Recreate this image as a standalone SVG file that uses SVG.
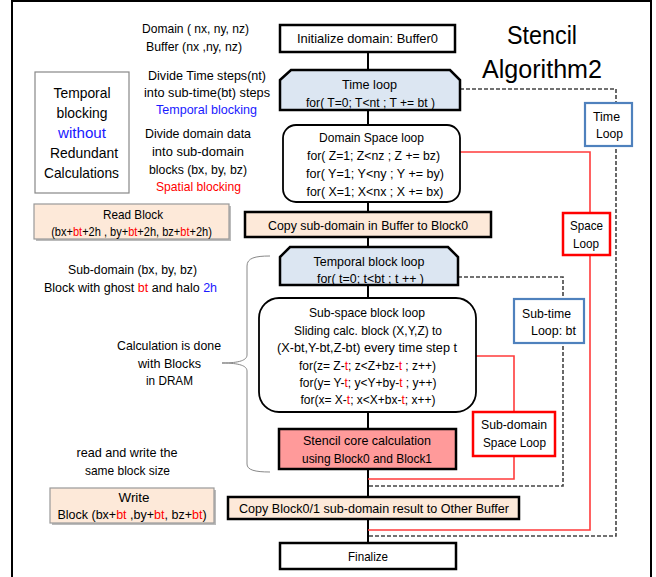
<svg xmlns="http://www.w3.org/2000/svg" width="656" height="577" viewBox="0 0 656 577">
<style>
text{font-family:"Liberation Sans",Arial,sans-serif;font-size:13px;fill:#000;text-anchor:middle}
.r{fill:#ff0000}
.b{fill:#1a1aff}
.big{font-size:15px}
.s12{font-size:12px}
.s125{font-size:12.5px}
.title{font-size:25px}
.box{stroke:#000;stroke-width:2.5}
.w{fill:#fff}
.blue{fill:#dce6f2}
.peach{fill:#fde9d9}
.lp{fill:#fff;stroke:#4f81bd;stroke-width:2.2}
.rp{fill:#fff;stroke:#ff0000;stroke-width:2.5}
.ln{stroke:#000;stroke-width:2;fill:none}
.dash{stroke:#444;stroke-width:1.6;stroke-dasharray:4 2;fill:none}
.red{stroke:#ff3b3b;stroke-width:1.6;fill:none}
</style>
<rect x="0" y="0" width="656" height="577" fill="#fff"/>
<path d="M12,590 V1 H651 V590" fill="none" stroke="#000" stroke-width="2"/>

<g id="title">
<text class="title" x="542" y="44" textLength="70" lengthAdjust="spacingAndGlyphs">Stencil</text>
<text class="title" x="542" y="78" textLength="120" lengthAdjust="spacingAndGlyphs">Algorithm2</text>
</g>

<g id="connectors">
<path class="ln" d="M368,52 V70 M368,110 V125 M368,202 V212 M368,237 V247 M368,285 V298 M368,412 V429 M368,469 V497 M368,519 V543"/>
<path class="dash" d="M460,89 H616 V536 H368"/>
<path class="red" d="M460,152 H590 V530 H368"/>
<path class="dash" d="M458,277 H563 V486 H368"/>
<path class="red" d="M476,356 H514 V479 H368"/>
<path d="M270,256 C255,256 247,258 247,266 V355 C247,360 240,363 222,363 C240,363 247,366 247,371 V464 C247,470 255,472 270,472" fill="none" stroke="#888" stroke-width="1"/>
</g>

<g id="notes">
<text x="195.5" y="33" textLength="107" lengthAdjust="spacingAndGlyphs">Domain ( nx, ny, nz)</text>
<text x="194" y="51" textLength="96" lengthAdjust="spacingAndGlyphs">Buffer (nx ,ny, nz)</text>
<text x="207" y="80" textLength="118" lengthAdjust="spacingAndGlyphs">Divide Time steps(nt)</text>
<text x="207" y="97" textLength="126" lengthAdjust="spacingAndGlyphs">into sub-time(bt) steps</text>
<text class="b" x="206.5" y="114" textLength="101" lengthAdjust="spacingAndGlyphs">Temporal blocking</text>
<text x="198" y="138" textLength="106" lengthAdjust="spacingAndGlyphs">Divide domain data</text>
<text x="198" y="156" textLength="92" lengthAdjust="spacingAndGlyphs">into sub-domain</text>
<text x="198" y="174" textLength="98" lengthAdjust="spacingAndGlyphs">blocks (bx, by, bz)</text>
<text class="r" x="198.5" y="191" textLength="85" lengthAdjust="spacingAndGlyphs">Spatial blocking</text>
<text x="132.5" y="274" textLength="129" lengthAdjust="spacingAndGlyphs">Sub-domain (bx, by, bz)</text>
<text class="s125" x="130.5" y="292">Block with ghost <tspan class="r">bt</tspan> and halo <tspan class="b">2h</tspan></text>
<text x="169" y="350" textLength="104" lengthAdjust="spacingAndGlyphs">Calculation is done</text>
<text x="169.5" y="368" textLength="63" lengthAdjust="spacingAndGlyphs">with Blocks</text>
<text x="169.5" y="385" textLength="47" lengthAdjust="spacingAndGlyphs">in DRAM</text>
<text x="127" y="457" textLength="101" lengthAdjust="spacingAndGlyphs">read and write the</text>
<text x="127.5" y="475" textLength="85" lengthAdjust="spacingAndGlyphs">same block size</text>
</g>

<g id="temporal-note">
<rect x="35" y="72" width="94" height="121" fill="#fff" stroke="#888" stroke-width="1.2"/>
<text class="big" x="82" y="98" textLength="57" lengthAdjust="spacingAndGlyphs">Temporal</text>
<text class="big" x="82" y="118" textLength="51" lengthAdjust="spacingAndGlyphs">blocking</text>
<text class="big b" x="82" y="138" textLength="48" lengthAdjust="spacingAndGlyphs">without</text>
<text class="big" x="84" y="158" textLength="68" lengthAdjust="spacingAndGlyphs">Redundant</text>
<text class="big" x="81.5" y="178" textLength="75" lengthAdjust="spacingAndGlyphs">Calculations</text>
</g>

<g id="read-block">
<rect x="36" y="206" width="195" height="35" fill="#bbb"/>
<rect x="34" y="204" width="195" height="35" class="peach" stroke="#999" stroke-width="1.2"/>
<text x="133" y="219" textLength="60" lengthAdjust="spacingAndGlyphs">Read Block</text>
<text class="s12" transform="translate(131.5,236) scale(0.92,1)" x="0" y="0">(bx+<tspan class="r">bt</tspan>+2h  , by+<tspan class="r">bt</tspan>+2h,  bz+<tspan class="r">bt</tspan>+2h)</text>
</g>

<g id="write-block">
<rect x="52" y="490" width="164" height="35" fill="#bbb"/>
<rect x="50" y="488" width="164" height="35" class="peach" stroke="#999" stroke-width="1.2"/>
<text x="134" y="502" textLength="31" lengthAdjust="spacingAndGlyphs">Write</text>
<text class="s125" x="132" y="519">Block (bx+<tspan class="r">bt</tspan> ,by+<tspan class="r">bt</tspan>, bz+<tspan class="r">bt</tspan>)</text>
</g>

<g id="init">
<rect x="280" y="25" width="175" height="27" class="box w"/>
<text x="367.5" y="43" textLength="141" lengthAdjust="spacingAndGlyphs">Initialize domain: Buffer0</text>
</g>

<g id="time-loop">
<polygon points="280,80 291,70 450,70 460,80 460,110 280,110" class="box blue"/>
<text x="369.5" y="89" textLength="55" lengthAdjust="spacingAndGlyphs">Time loop</text>
<text x="370.5" y="107" textLength="129" lengthAdjust="spacingAndGlyphs">for( T=0; T&lt;nt ; T += bt )</text>
</g>

<g id="domain-space-loop">
<rect x="283" y="125" width="177" height="77" rx="13" fill="#fff" stroke="#000" stroke-width="1.8"/>
<text x="371.5" y="142" textLength="105" lengthAdjust="spacingAndGlyphs">Domain Space loop</text>
<text x="373.5" y="160" textLength="133" lengthAdjust="spacingAndGlyphs">for( Z=1; Z&lt;nz ; Z += bz)</text>
<text x="375" y="178" textLength="138" lengthAdjust="spacingAndGlyphs">for( Y=1; Y&lt;ny ; Y += by)</text>
<text x="375" y="196" textLength="137" lengthAdjust="spacingAndGlyphs">for( X=1; X&lt;nx ; X += bx)</text>
</g>

<g id="copy-in">
<rect x="245" y="212" width="246" height="25" class="box peach"/>
<text x="368" y="230" textLength="200" lengthAdjust="spacingAndGlyphs">Copy sub-domain in Buffer to Block0</text>
</g>

<g id="temporal-block-loop">
<polygon points="280,257 290,247 448,247 458,257 458,285 280,285" class="box blue"/>
<text x="369" y="266" textLength="111" lengthAdjust="spacingAndGlyphs">Temporal block loop</text>
<text x="370.5" y="283" textLength="107" lengthAdjust="spacingAndGlyphs">for( t=0; t&lt;bt ; t ++ )</text>
</g>

<g id="sub-space-loop">
<rect x="259" y="298" width="217" height="114" rx="20" fill="#fff" stroke="#000" stroke-width="1.8"/>
<text x="367" y="317" textLength="116" lengthAdjust="spacingAndGlyphs">Sub-space block loop</text>
<text x="368" y="335" textLength="148" lengthAdjust="spacingAndGlyphs">Sliding calc. block (X,Y,Z) to</text>
<text x="367" y="352" textLength="180" lengthAdjust="spacingAndGlyphs">(X-bt,Y-bt,Z-bt) every time step t</text>
<text class="s12" x="367.5" y="370">for(z= Z-<tspan class="r">t</tspan>; z&lt;Z+bz-<tspan class="r">t</tspan> ; z++)</text>
<text class="s12" x="368" y="387">for(y= Y-<tspan class="r">t</tspan>; y&lt;Y+by-<tspan class="r">t</tspan> ; y++)</text>
<text class="s12" x="368" y="404">for(x= X-<tspan class="r">t</tspan>; x&lt;X+bx-<tspan class="r">t</tspan>;  x++)</text>
</g>

<g id="stencil-core">
<rect x="279" y="429" width="177" height="40" class="box" fill="#ff9a9a"/>
<text x="367" y="445" textLength="128" lengthAdjust="spacingAndGlyphs">Stencil core calculation</text>
<text x="367" y="463" textLength="130" lengthAdjust="spacingAndGlyphs">using Block0 and Block1</text>
</g>

<g id="copy-out">
<rect x="228" y="497" width="291" height="22" class="box peach"/>
<text x="374" y="513" textLength="270" lengthAdjust="spacingAndGlyphs">Copy Block0/1 sub-domain result to Other Buffer</text>
</g>

<g id="finalize">
<rect x="280" y="543" width="176" height="26" class="box w"/>
<text x="368" y="561" textLength="40" lengthAdjust="spacingAndGlyphs">Finalize</text>
</g>

<g id="time-loop-label">
<rect x="585" y="103" width="47" height="43" class="lp"/>
<text x="606.5" y="121" textLength="27" lengthAdjust="spacingAndGlyphs">Time</text>
<text x="609.5" y="138" textLength="27" lengthAdjust="spacingAndGlyphs">Loop</text>
</g>

<g id="space-loop-label">
<rect x="563" y="213" width="47" height="42" class="rp"/>
<text x="586.5" y="230" textLength="33" lengthAdjust="spacingAndGlyphs">Space</text>
<text x="586" y="248" textLength="26" lengthAdjust="spacingAndGlyphs">Loop</text>
</g>

<g id="sub-time-label">
<rect x="514" y="299" width="70" height="44" class="lp"/>
<text x="546.5" y="318" textLength="49" lengthAdjust="spacingAndGlyphs">Sub-time</text>
<text x="553.5" y="335" textLength="45" lengthAdjust="spacingAndGlyphs">Loop: bt</text>
</g>

<g id="sub-domain-label">
<rect x="473" y="412" width="82" height="44" class="rp"/>
<text x="514" y="429" textLength="66" lengthAdjust="spacingAndGlyphs">Sub-domain</text>
<text x="514.5" y="447" textLength="63" lengthAdjust="spacingAndGlyphs">Space Loop</text>
</g>
</svg>
